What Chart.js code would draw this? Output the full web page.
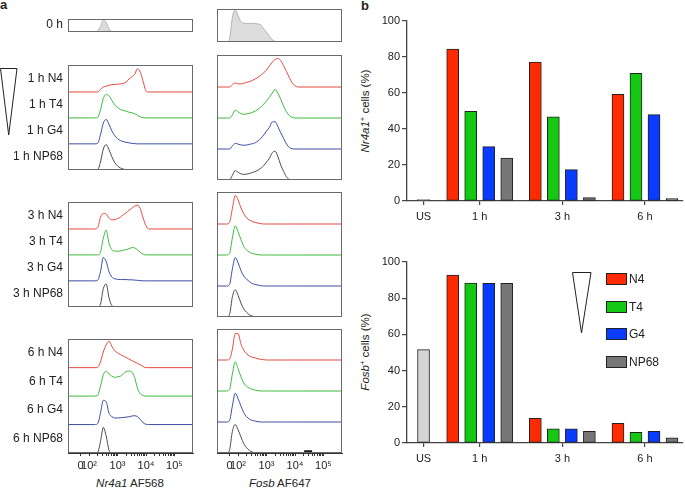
<!DOCTYPE html>
<html>
<head>
<meta charset="utf-8">
<title>Nr4a1 and Fosb after peptide stimulation</title>
<script src="https://cdn.jsdelivr.net/npm/chart.js@4.4.1/dist/chart.umd.min.js"></script>
<style>
  body { margin: 0; background: #fff; width: 685px; height: 489px; position: relative; overflow: hidden;
         font-family: "Liberation Sans", Arial, Helvetica, sans-serif; color: #222; }
  canvas { position: absolute; }
  .lbl { position: absolute; white-space: nowrap; font-size: 11.5px; line-height: 14px; transform: translate(-50%, -50%); }
  .ytitle { position: absolute; white-space: nowrap; font-size: 11.5px; line-height: 14px; transform: translate(-50%, -50%) rotate(-90deg); }
  .panel { position: absolute; font-weight: bold; font-size: 13px; line-height: 13px; }
  sup { font-size: 7.5px; vertical-align: 4px; line-height: 0; }
  .lg-box { position: absolute; width: 19px; height: 10px; border: 1px solid #222; }
  .lg-txt { position: absolute; font-size: 12px; line-height: 12px; }
  svg { position: absolute; }
</style>
</head>
<body>
<div class="panel" style="left:0px;top:-2px">a</div>
<div class="panel" style="left:361px;top:-1px">b</div>

<svg style="left:0;top:0" width="22" height="140"><polygon points="0.5,68.5 17,68.5 8.7,135" fill="none" stroke="#222" stroke-width="1"/></svg>
<svg style="top:265px;left:565px" width="35" height="75"><polygon points="7.5,7.5 26,7.5 16.5,68" fill="none" stroke="#222" stroke-width="1"/></svg>

<div class="lbl" style="left:130px;top:483px"><i>Nr4a1</i> AF568</div>
<div class="lbl" style="left:280px;top:483px"><i>Fosb</i> AF647</div>
<div class="ytitle" style="left:365px;top:111px"><i>Nr4a1</i><sup>+</sup> cells (%)</div>
<div class="ytitle" style="left:365px;top:352px"><i>Fosb</i><sup>+</sup> cells (%)</div>

<script>
// ---------- panel a : flow histograms (x in decades of the display axis, y in row heights) ----------
const X_MIN = 1.26;
const X_MAX = 5.65;
const AXIS_TICK_POS = [1.7, 2, 3, 4, 5];
const AXIS_TICK_LABELS = ['0', '10²', '10³', '10⁴', '10⁵'];

const TIMEPOINTS = ['1 h', '3 h', '6 h'];
const PEPTIDES = ['N4', 'T4', 'G4', 'NP68'];

const NR4A1_GRID = [2.1, 2.2, 2.3, 2.4, 2.5, 2.6, 2.7, 2.8, 2.9, 3.0, 3.1, 3.2, 3.3, 3.4, 3.5, 3.6, 3.7, 3.8, 3.9, 4.0, 4.1];
const NR4A1_0H = [0, 0, 0.08, 0.45, 1.02, 0.8, 0.25, 0.03, 0, 0, 0, 0, 0, 0, 0, 0, 0, 0, 0, 0, 0];
const NR4A1_1H_N4 = [0, 0, 0, 0.1, 0.2, 0.22, 0.26, 0.28, 0.29, 0.3, 0.31, 0.33, 0.38, 0.5, 0.58, 0.68, 0.9, 0.76, 0.4, 0.04, 0];
const NR4A1_1H_T4 = [0, 0, 0.02, 0.3, 0.75, 0.9, 0.85, 0.68, 0.5, 0.4, 0.33, 0.29, 0.26, 0.22, 0.2, 0.16, 0.1, 0.04, 0.01, 0, 0];
const NR4A1_1H_G4 = [0, 0, 0.02, 0.35, 0.8, 0.94, 0.75, 0.5, 0.32, 0.2, 0.13, 0.09, 0.06, 0.04, 0.02, 0.01, 0, 0, 0, 0, 0];
const NR4A1_1H_NP68 = [0, 0, 0, 0.3, 0.8, 0.97, 0.78, 0.5, 0.28, 0.15, 0.07, 0.03, 0, 0, 0, 0, 0, 0, 0, 0, 0];
const NR4A1_3H_N4 = [0, 0, 0.05, 0.45, 0.6, 0.58, 0.42, 0.35, 0.36, 0.4, 0.45, 0.55, 0.62, 0.72, 0.8, 0.88, 0.92, 0.78, 0.42, 0.12, 0];
const NR4A1_3H_T4 = [0, 0, 0, 0.1, 0.65, 0.96, 0.45, 0.2, 0.15, 0.14, 0.15, 0.18, 0.2, 0.24, 0.28, 0.27, 0.2, 0.1, 0.03, 0, 0];
const NR4A1_3H_G4 = [0, 0, 0.02, 0.35, 0.9, 0.75, 0.35, 0.15, 0.08, 0.06, 0.05, 0.05, 0.05, 0.04, 0.04, 0.03, 0.02, 0.01, 0, 0, 0];
const NR4A1_3H_NP68 = [0, 0, 0, 0.1, 0.7, 0.88, 0.35, 0.05, 0, 0, 0, 0, 0, 0, 0, 0, 0, 0, 0, 0, 0];
const NR4A1_6H_N4 = [0, 0, 0.01, 0.2, 0.55, 0.8, 0.93, 0.75, 0.6, 0.52, 0.46, 0.41, 0.36, 0.3, 0.25, 0.2, 0.15, 0.1, 0.04, 0, 0];
const NR4A1_6H_T4 = [0, 0, 0.02, 0.35, 0.75, 0.88, 0.78, 0.7, 0.66, 0.68, 0.7, 0.78, 0.86, 0.88, 0.85, 0.65, 0.28, 0.08, 0.02, 0, 0];
const NR4A1_6H_G4 = [0, 0, 0.03, 0.4, 0.85, 0.8, 0.4, 0.28, 0.23, 0.23, 0.24, 0.25, 0.26, 0.27, 0.3, 0.31, 0.28, 0.18, 0.06, 0.01, 0];
const NR4A1_6H_NP68 = [0, 0, 0.02, 0.4, 0.9, 0.6, 0.1, 0, 0, 0, 0, 0, 0, 0, 0, 0, 0, 0, 0, 0, 0];

const FOSB_GRID = [1.6, 1.7, 1.8, 1.9, 2.0, 2.1, 2.2, 2.3, 2.4, 2.5, 2.6, 2.7, 2.8, 2.9, 3.0, 3.1, 3.2, 3.3, 3.4, 3.5, 3.6, 3.7, 3.8, 3.9, 4.0, 4.1];
const FOSB_0H = [0, 0.1, 0.8, 1.03, 0.85, 0.66, 0.61, 0.6, 0.6, 0.6, 0.6, 0.58, 0.55, 0.42, 0.32, 0.19, 0.08, 0.02, 0, 0, 0, 0, 0, 0, 0, 0];
const FOSB_1H_N4 = [0, 0, 0.08, 0.13, 0.1, 0.1, 0.12, 0.15, 0.17, 0.21, 0.26, 0.31, 0.38, 0.46, 0.55, 0.68, 0.8, 0.89, 0.92, 0.85, 0.68, 0.5, 0.3, 0.14, 0.04, 0];
const FOSB_1H_T4 = [0, 0, 0.1, 0.25, 0.2, 0.14, 0.12, 0.13, 0.15, 0.18, 0.22, 0.28, 0.35, 0.45, 0.55, 0.67, 0.8, 0.92, 0.8, 0.6, 0.38, 0.2, 0.08, 0.02, 0, 0];
const FOSB_1H_G4 = [0, 0, 0.1, 0.18, 0.16, 0.13, 0.12, 0.13, 0.15, 0.17, 0.2, 0.26, 0.34, 0.45, 0.58, 0.7, 0.87, 0.88, 0.72, 0.52, 0.34, 0.16, 0.05, 0.01, 0, 0];
const FOSB_1H_NP68 = [0, 0, 0.15, 0.3, 0.25, 0.2, 0.18, 0.19, 0.21, 0.24, 0.27, 0.32, 0.38, 0.46, 0.58, 0.7, 0.88, 0.93, 0.75, 0.48, 0.28, 0.1, 0.02, 0, 0, 0];
const FOSB_3H_N4 = [0, 0.05, 0.5, 0.92, 0.78, 0.52, 0.33, 0.2, 0.13, 0.08, 0.05, 0.03, 0.01, 0, 0, 0, 0, 0, 0, 0, 0, 0, 0, 0, 0, 0];
const FOSB_3H_T4 = [0, 0.05, 0.55, 0.94, 0.75, 0.5, 0.28, 0.16, 0.09, 0.05, 0.03, 0.01, 0, 0, 0, 0, 0, 0, 0, 0, 0, 0, 0, 0, 0, 0];
const FOSB_3H_G4 = [0, 0.05, 0.55, 0.92, 0.75, 0.5, 0.32, 0.22, 0.14, 0.08, 0.05, 0.03, 0.01, 0, 0, 0, 0, 0, 0, 0, 0, 0, 0, 0, 0, 0];
const FOSB_3H_NP68 = [0, 0.08, 0.65, 0.88, 0.7, 0.45, 0.26, 0.15, 0.07, 0.03, 0.01, 0, 0, 0, 0, 0, 0, 0, 0, 0, 0, 0, 0, 0, 0, 0];
const FOSB_6H_N4 = [0, 0.03, 0.35, 0.85, 0.85, 0.52, 0.32, 0.2, 0.13, 0.09, 0.07, 0.04, 0.02, 0.01, 0, 0, 0, 0, 0, 0, 0, 0, 0, 0, 0, 0];
const FOSB_6H_T4 = [0, 0.05, 0.55, 0.94, 0.72, 0.46, 0.26, 0.15, 0.09, 0.05, 0.03, 0.01, 0, 0, 0, 0, 0, 0, 0, 0, 0, 0, 0, 0, 0, 0];
const FOSB_6H_G4 = [0, 0.05, 0.52, 0.93, 0.75, 0.52, 0.3, 0.17, 0.09, 0.05, 0.03, 0.01, 0, 0, 0, 0, 0, 0, 0, 0, 0, 0, 0, 0, 0, 0];
const FOSB_6H_NP68 = [0, 0.1, 0.7, 0.92, 0.75, 0.52, 0.3, 0.17, 0.08, 0.03, 0.01, 0, 0, 0, 0, 0, 0, 0, 0, 0, 0, 0, 0, 0, 0, 0];
const FOSB_GATE = [4.32, 4.6];

// ---------- panel b : percentage of positive cells ----------
const BAR_CATS = ['US', '1 h', '3 h', '6 h'];
const BAR_CAT_POS = [0.32, 1, 2, 3];
const NR4A1_PCT_US = [0.8];
const NR4A1_PCT_N4 = [84.4, 77.2, 59.3];
const NR4A1_PCT_T4 = [49.8, 46.7, 70.9];
const NR4A1_PCT_G4 = [30.2, 17.4, 48.0];
const NR4A1_PCT_NP68 = [23.9, 1.9, 1.3];
const FOSB_PCT_US = [51.6];
const FOSB_PCT_N4 = [92.8, 13.6, 10.9];
const FOSB_PCT_T4 = [88.4, 7.8, 5.9];
const FOSB_PCT_G4 = [88.2, 7.8, 6.4];
const FOSB_PCT_NP68 = [88.2, 6.5, 2.8];

// styles
const LINE_COLORS = ['#e34a3f', '#3dba3d', '#3c4ea3', '#4d4d4d'];
const BAR_COLORS = ['#ff2a00', '#14c814', '#0a3cff', '#777777'];
const US_COLOR = '#d4d4d4';

Chart.defaults.font.family = '"Liberation Sans", Arial, Helvetica, sans-serif';
Chart.defaults.color = '#222';
Chart.defaults.animation = false;

function makeCanvas(x, y, w, h) {
    const c = document.createElement('canvas');
    c.width = w;
    c.height = h;
    c.style.left = x + 'px';
    c.style.top = y + 'px';
    document.body.appendChild(c);
    return c;
}

// box outline round each histogram panel
const framePlugin = {
    id: 'frame',
    afterDatasetsDraw(chart) {
        const a = chart.chartArea, ctx = chart.ctx;
        ctx.save();
        ctx.strokeStyle = '#6a6a6a';
        ctx.lineWidth = 1;
        ctx.strokeRect(Math.round(a.left) + 0.5, Math.round(a.top) + 0.5, Math.round(a.width) - 1, Math.round(a.height) - 1);
        ctx.restore();
    }
};

const ROW_PX = 31;
const BOX_Y = [[9, 42], [55, 180], [192, 317], [329, 453]];
const LABEL_OFFSET = [0.62, 0.5, 0.52, 0.52];
const COLUMNS = [
    { x: 0, w: 195, padL: 0, padR: 2, labels: true },
    { x: 215, w: 129, padL: 2, padR: 2, labels: false }
];

// major + minor tick marks of the bottom axis
const axisTicks = AXIS_TICK_POS.map((v, i) => ({ value: v, text: AXIS_TICK_LABELS[i] }));
for (let k = 2; k < 5; k++) {
    for (let m = 2; m < 10; m++) axisTicks.push({ value: k + Math.log10(m), text: '' });
}
axisTicks.sort((a, b) => a.value - b.value);

function histBox(colIndex, boxIndex, grid, curves, rowLabels, gate) {
    const col = COLUMNS[colIndex];
    const [bTop, bBottom] = BOX_Y[boxIndex];
    const last = boxIndex === BOX_Y.length - 1;
    const axisH = 20;
    const h = bBottom - bTop + 2 + (last ? axisH : 2);
    const canvas = makeCanvas(col.x, bTop - 2, col.w, h);
    const rows = curves.length;
    const yMax = (bBottom - bTop) / ROW_PX;

    const datasets = curves.map((c, i) => {
        const off = rows - 1 - i;
        return {
            label: c.label,
            data: [{ x: X_MIN, y: off }]
                .concat(grid.map((x, j) => ({ x: x, y: off + (c.values[j] || 0) })))
                .concat([{ x: X_MAX, y: off }]),
            borderColor: c.color,
            backgroundColor: c.fill || 'transparent',
            fill: c.fill ? { value: off } : false,
            borderWidth: 1,
            pointRadius: 0,
            cubicInterpolationMode: 'monotone'
        };
    });
    if (gate) {
        datasets.push({
            label: 'gate',
            data: gate.map(x => ({ x: x, y: 0.04 })),
            borderColor: '#111',
            borderWidth: 3,
            pointRadius: 0
        });
    }

    const labelsAsc = rowLabels ? rowLabels.slice().reverse() : [];
    new Chart(canvas, {
        type: 'line',
        data: { datasets },
        options: {
            responsive: false,
            layout: { padding: { left: col.padL, right: col.padR, top: 2, bottom: last ? 0 : 2 } },
            plugins: { legend: { display: false }, tooltip: { enabled: false } },
            scales: {
                x: {
                    type: 'linear',
                    min: X_MIN,
                    max: X_MAX,
                    display: last,
                    afterBuildTicks: s => { s.ticks = axisTicks.map(t => ({ value: t.value })); },
                    afterFit: s => { if (last) s.height = axisH; },
                    ticks: {
                        autoSkip: false, maxRotation: 0, minRotation: 0, padding: 3,
                        font: { size: 11 }, color: '#222',
                        callback: (v, i) => axisTicks[i] ? axisTicks[i].text : ''
                    },
                    grid: { drawOnChartArea: false, tickLength: 3, color: '#333' },
                    border: { color: '#333' }
                },
                y: {
                    type: 'linear',
                    min: 0,
                    max: yMax,
                    display: col.labels,
                    afterBuildTicks: s => { s.ticks = labelsAsc.map((l, i) => ({ value: i + LABEL_OFFSET[boxIndex] })); },
                    afterFit: s => { if (col.labels) s.width = 68; },
                    ticks: {
                        autoSkip: false, padding: 5, font: { size: 12 }, color: '#222',
                        callback: (v, i) => labelsAsc[i]
                    },
                    grid: { display: false, drawTicks: false },
                    border: { display: false }
                }
            }
        },
        plugins: [framePlugin]
    });
}

const NR4A1_SETS = [
    [NR4A1_1H_N4, NR4A1_1H_T4, NR4A1_1H_G4, NR4A1_1H_NP68],
    [NR4A1_3H_N4, NR4A1_3H_T4, NR4A1_3H_G4, NR4A1_3H_NP68],
    [NR4A1_6H_N4, NR4A1_6H_T4, NR4A1_6H_G4, NR4A1_6H_NP68]
];
const FOSB_SETS = [
    [FOSB_1H_N4, FOSB_1H_T4, FOSB_1H_G4, FOSB_1H_NP68],
    [FOSB_3H_N4, FOSB_3H_T4, FOSB_3H_G4, FOSB_3H_NP68],
    [FOSB_6H_N4, FOSB_6H_T4, FOSB_6H_G4, FOSB_6H_NP68]
];

// 0 h boxes
histBox(0, 0, NR4A1_GRID, [{ label: '0 h', values: NR4A1_0H, color: '#b4b4b4', fill: '#dcdcdc' }], ['0 h']);
histBox(1, 0, FOSB_GRID, [{ label: '0 h', values: FOSB_0H, color: '#b4b4b4', fill: '#dcdcdc' }], null);

TIMEPOINTS.forEach((t, b) => {
    const labels = PEPTIDES.map(p => t + ' ' + p);
    histBox(0, b + 1, NR4A1_GRID,
        NR4A1_SETS[b].map((v, i) => ({ label: labels[i], values: v, color: LINE_COLORS[i] })), labels);
    histBox(1, b + 1, FOSB_GRID,
        FOSB_SETS[b].map((v, i) => ({ label: labels[i], values: v, color: LINE_COLORS[i] })), null,
        b === TIMEPOINTS.length - 1 ? FOSB_GATE : null);
});

// ---------- bar charts ----------
const BAR_STEP = 0.218;

function barChart(top, height, padTop, axisH, series, usValue) {
    const canvas = makeCanvas(350, top, 335, height);
    const datasets = series.map((vals, k) => ({
        label: PEPTIDES[k],
        data: vals.map((v, j) => ({ x: BAR_CAT_POS[j + 1] + (k - 1.5) * BAR_STEP, y: v })),
        backgroundColor: BAR_COLORS[k]
    }));
    datasets.push({
        label: 'US',
        data: usValue.map(v => ({ x: BAR_CAT_POS[0], y: v })),
        backgroundColor: US_COLOR
    });

    return new Chart(canvas, {
        type: 'bar',
        data: { datasets },
        options: {
            responsive: false,
            layout: { padding: { left: 0, right: 2, top: padTop, bottom: 0 } },
            datasets: { bar: { grouped: false, barThickness: 12, borderWidth: 1, borderColor: '#222', borderSkipped: false } },
            plugins: { legend: { display: false }, tooltip: { enabled: false } },
            scales: {
                x: {
                    type: 'linear',
                    offset: false,
                    min: 0.12,
                    max: 3.46,
                    afterBuildTicks: s => { s.ticks = BAR_CAT_POS.map(v => ({ value: v })); },
                    afterFit: s => { s.height = axisH; },
                    ticks: { autoSkip: false, maxRotation: 0, padding: 5, font: { size: 11 }, color: '#222',
                             callback: (v, i) => BAR_CATS[i] },
                    grid: { offset: false, drawOnChartArea: false, tickLength: 4, color: '#444', lineWidth: 1.2 },
                    border: { color: '#444', width: 1.3 }
                },
                y: {
                    min: 0,
                    max: 100,
                    afterFit: s => { s.width = 57; },
                    ticks: { stepSize: 20, padding: 2, font: { size: 11 }, color: '#222' },
                    grid: { drawOnChartArea: false, tickLength: 5, color: '#444', lineWidth: 1.2 },
                    border: { color: '#444', width: 1.3 }
                }
            }
        }
    });
}

barChart(0, 232, 21, 31, [NR4A1_PCT_N4, NR4A1_PCT_T4, NR4A1_PCT_G4, NR4A1_PCT_NP68], NR4A1_PCT_US);
const fosbBars = barChart(240, 232, 22, 29, [FOSB_PCT_N4, FOSB_PCT_T4, FOSB_PCT_G4, FOSB_PCT_NP68], FOSB_PCT_US);

// legend built from the chart's own legend items
function htmlLegend(chart, x, y, step) {
    const items = chart.options.plugins.legend.labels.generateLabels(chart).filter(it => it.text !== 'US');
    items.forEach((it, i) => {
        const box = document.createElement('div');
        box.className = 'lg-box';
        box.style.left = x + 'px';
        box.style.top = (y + i * step) + 'px';
        box.style.background = it.fillStyle;
        document.body.appendChild(box);
        const txt = document.createElement('div');
        txt.className = 'lg-txt';
        txt.textContent = it.text;
        txt.style.left = (x + 23) + 'px';
        txt.style.top = (y + i * step) + 'px';
        document.body.appendChild(txt);
    });
}
htmlLegend(fosbBars, 606, 273, 27.7);
</script>
</body>
</html>
